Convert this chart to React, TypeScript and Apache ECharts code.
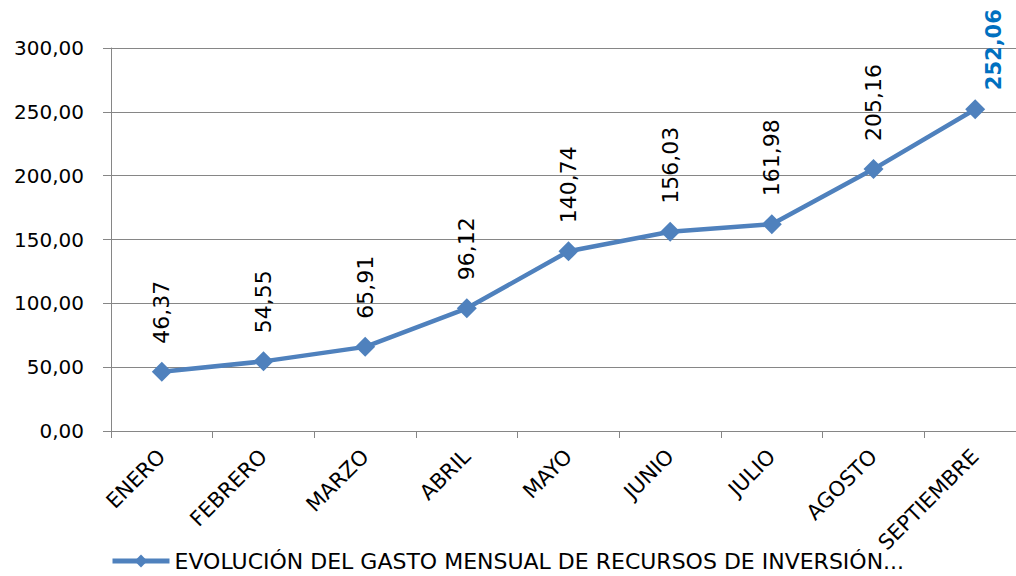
import React, { useEffect, useRef } from "react";
import * as echarts from "echarts";

const categories = ["ENERO", "FEBRERO", "MARZO", "ABRIL", "MAYO", "JUNIO", "JULIO", "AGOSTO", "SEPTIEMBRE"];
const values = [46.37, 54.55, 65.91, 96.12, 140.74, 156.03, 161.98, 205.16, 252.06];
const seriesName = "EVOLUCIÓN DEL GASTO MENSUAL DE RECURSOS DE INVERSIÓN...";
const yMin = 0;
const yMax = 300;
const yInterval = 50;

const FONT = "DejaVu Sans";
const fmt = (v: number) => v.toFixed(2).replace(".", ",");

export default function App() {
  const ref = useRef<HTMLDivElement>(null);
  useEffect(() => {
    if (!ref.current) return;
    const chart = echarts.init(ref.current, undefined, { renderer: "svg" });
    const last = values.length - 1;
    chart.setOption({
      animation: false,
      backgroundColor: "#ffffff",
      grid: { left: 111, right: -10, top: 48, bottom: 145, containLabel: false, outerBoundsMode: "none" },
      legend: {
        left: 110,
        top: 550,
        padding: 0,
        itemWidth: 57,
        itemHeight: 16,
        itemGap: 6,
        lineStyle: { width: 5 },
        textStyle: { fontFamily: FONT, fontSize: 22, color: "#000" },
        data: [seriesName],
      },
      xAxis: {
        type: "category",
        data: categories,
        boundaryGap: true,
        axisLine: { lineStyle: { color: "#868686", width: 1 } },
        axisTick: { show: true, length: 7, alignWithLabel: false, lineStyle: { color: "#868686" } },
        axisLabel: {
          rotate: 45,
          margin: 22,
          fontFamily: FONT,
          fontSize: 21,
          color: "#000",
          interval: 0,
        },
      },
      yAxis: {
        type: "value",
        min: yMin,
        max: yMax,
        interval: yInterval,
        axisLine: { show: true, lineStyle: { color: "#868686", width: 1 } },
        axisTick: { show: true, length: 8, lineStyle: { color: "#868686" } },
        splitLine: { lineStyle: { color: "#868686", width: 1 } },
        axisLabel: {
          margin: 27,
          fontFamily: FONT,
          fontSize: 20,
          color: "#000",
          formatter: (v: number) => fmt(v),
        },
      },
      series: [
        {
          name: seriesName,
          type: "line",
          data: values.map((v, i) =>
            i === last
              ? {
                  value: v,
                  label: {
                    color: "#0070C0",
                    fontWeight: "bold",
                    fontSize: 21,
                    distance: 9,
                    offset: [0, 19],
                  },
                }
              : v
          ),
          symbol: "diamond",
          symbolSize: 20,
          lineStyle: { color: "#4F81BD", width: 4.5 },
          itemStyle: { color: "#4F81BD" },
          label: {
            show: true,
            position: "top",
            distance: 18,
            rotate: 90,
            align: "left",
            verticalAlign: "middle",
            fontFamily: FONT,
            fontSize: 22,
            color: "#000",
            formatter: (p: any) => fmt(p.value),
          },
        },
      ],
    });
    return () => chart.dispose();
  }, []);
  return (
    <div
      ref={ref}
      style={{ position: "fixed", left: 0, top: 0, width: 1016, height: 576, overflow: "hidden" }}
    />
  );
}
